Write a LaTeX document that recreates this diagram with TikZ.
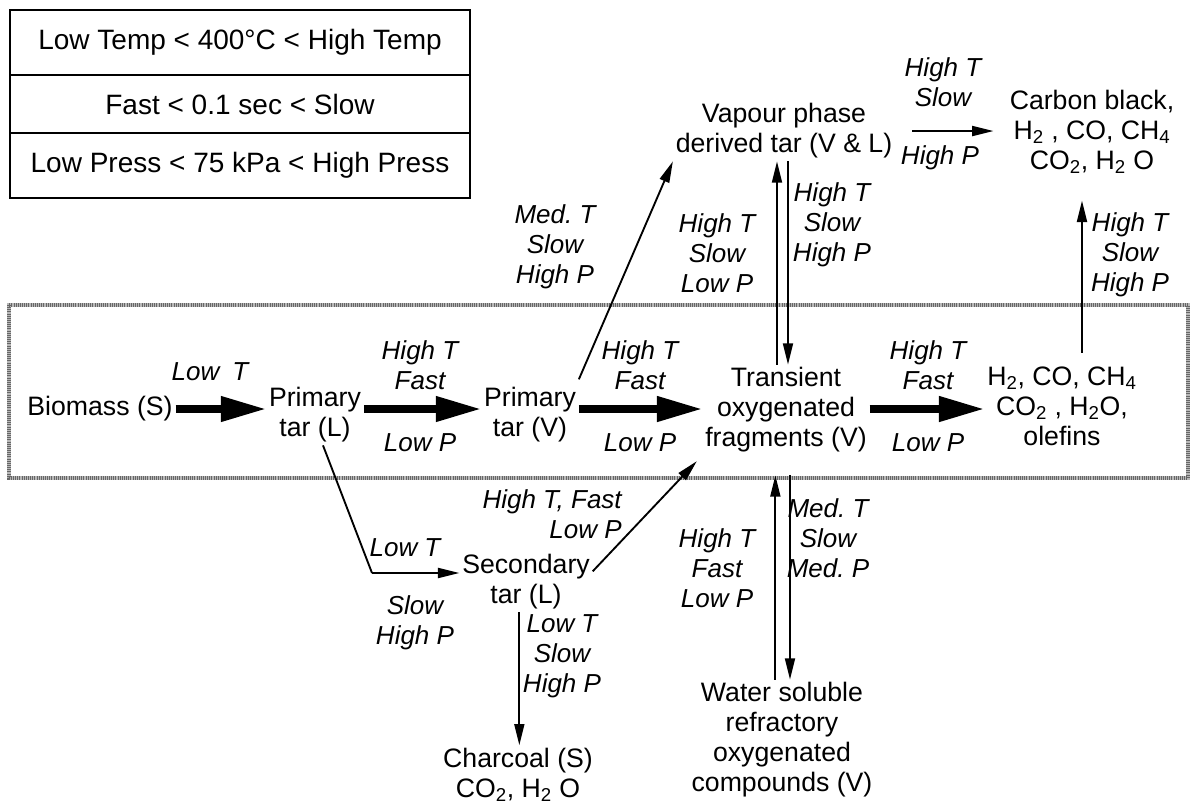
\documentclass[tikz,border=0pt]{standalone}
\usepackage{fontspec}
\setmainfont{Liberation Sans}
\usetikzlibrary{arrows.meta}
\frenchspacing

\begin{document}
\begin{tikzpicture}[x=0.75pt,y=-0.75pt,
  txt/.style={align=center, inner sep=2pt, font=\fontsize{20}{22.5}\selectfont},
  lbl/.style={align=center, inner sep=0pt, font=\fontsize{19.5}{22.5}\selectfont\itshape},
  legrow/.style={draw, line width=1.1pt, minimum width=345pt, inner sep=0pt, font=\fontsize{21}{22.5}\selectfont},
  bigarrow/.style={line width=5.5pt, -{Triangle[length=34pt,width=18pt]}},
  arrow/.style={line width=1.4pt, -{Triangle[length=16pt,width=7.5pt]}}]

\useasboundingbox (0,0) rectangle (1194,804);

% legend
\node (legtemp) [legrow, minimum height=48.75pt] at (240,42.5) {Low Temp < 400°C < High Temp};
\node (legtime) [legrow, minimum height=43.5pt] at (240,104) {Fast < 0.1 sec < Slow};
\node (legpress) [legrow, minimum height=48.75pt] at (240,165.5) {Low Press < 75 kPa < High Press};

% reactor zone
\draw[black!28, line width=3.5pt] (9,305) rectangle (1188,478);
\draw[black!60, line width=3.5pt, dash pattern=on 0.6pt off 1pt] (9,305) rectangle (1188,478);

% species
\node (biomass) [txt] at (100,409) {Biomass (S)};
\node (ptarl) [txt] at (315,415) {Primary\\tar (L)};
\node (ptarv) [txt] at (530,415) {Primary\\tar (V)};
\node (trans) [txt] at (786,410) {Transient\\oxygenated\\fragments (V)};
\node (gas) [txt] at (1062,406) {H\textsubscript{2}, CO, CH\textsubscript{4}\\CO\textsubscript{2} , H\textsubscript{2}O,\\olefins};
\node (vapour) [txt] at (784,131) {Vapour phase\\derived tar (V \& L)};
\node (carbon) [txt] at (1092,132) {Carbon black,\\H\textsubscript{2} , CO, CH\textsubscript{4}\\CO\textsubscript{2}, H\textsubscript{2} O};
\node (sectar) [txt] at (526,582) {Secondary\\tar (L)};
\node (charcoal) [txt] at (518,775) {Charcoal (S)\\CO\textsubscript{2}, H\textsubscript{2} O};
\node (water) [txt] at (782,740) {Water soluble\\refractory\\oxygenated\\compounds (V)};

% conditions
\node (c1) [lbl] at (210,372) {Low\enspace T};
\node (c2a) [lbl] at (420,365) {High T\\Fast};
\node (c2b) [lbl] at (420,443) {Low P};
\node (c3a) [lbl] at (640,365) {High T\\Fast};
\node (c3b) [lbl] at (640,443) {Low P};
\node (c4a) [lbl] at (928,365) {High T\\Fast};
\node (c4b) [lbl] at (928,443) {Low P};
\node (c5) [lbl] at (555,247) {Med. T\\Slow\\High P};
\node (c6) [lbl] at (717,253) {High T\\Slow\\Low P};
\node (c7) [lbl] at (832,225) {High T\\Slow\\High P};
\node (c8a) [lbl] at (943,82) {High T\\Slow};
\node (c8b) [lbl] at (940,158) {High P};
\node (c9) [lbl] at (1130,255) {High T\\Slow\\High P};
\node (c10) [lbl] at (405,548) {Low T};
\node (c11) [lbl] at (415,623) {Slow\\High P};
\node (c12) [lbl, align=right, anchor=east] at (622,514) {High T, Fast\\Low P};
\node (c13) [lbl] at (562,656) {Low T\\Slow\\High P};
\node (c14) [lbl] at (717,568) {High T\\Fast\\Low P};
\node (c15) [lbl] at (828,538) {Med. T\\Slow\\Med. P};

\coordinate (bend) at (372,573);

% main chain
\draw[bigarrow] (biomass) -- (biomass -| ptarl.west);
\draw[bigarrow] (ptarl.east |- biomass) -- (ptarv.west |- biomass);
\draw[bigarrow] (ptarv.east |- biomass) -- (trans.west |- biomass);
\draw[bigarrow] (trans.east |- biomass) -- (gas.west |- biomass);

% upper paths
\draw[arrow] ([yshift=4pt]ptarv.north east) -- (vapour.south west);
\draw[arrow] ([xshift=-6.75pt]trans.north) -- ([xshift=-6.75pt]trans.north |- vapour.south);
\draw[arrow] ([xshift=1.5pt]trans.north |- vapour.south) -- ([xshift=1.5pt]trans.north);
\draw[arrow, shorten <=13pt, shorten >=10pt] (vapour.east) -- (vapour.east -| carbon.west);
\draw[arrow, shorten <=8pt, shorten >=18pt] ([xshift=15pt]gas.north) -- ([xshift=15pt]gas.north |- carbon.south);

% lower paths
\draw[line width=1.4pt] ([xshift=6pt]ptarl.south) -- (bend);
\draw[arrow] (bend) -- (bend -| sectar.west);
\draw[arrow, shorten >=6pt] ([yshift=8pt]sectar.east) -- (trans.south west);
\draw[arrow] ([xshift=-5pt]sectar.south) -- ([xshift=-5pt]sectar.south |- charcoal.north);
\draw[arrow, shorten >=15pt] ([xshift=-5pt]water.north) -- ([xshift=-5pt]water.north |- trans.south);
\draw[arrow, shorten <=15pt] ([xshift=6pt]water.north |- trans.south) -- ([xshift=6pt]water.north);

\end{tikzpicture}
\end{document}
